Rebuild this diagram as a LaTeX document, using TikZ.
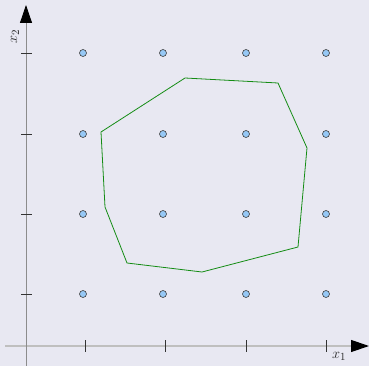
\documentclass[tikz,border=0pt]{standalone}
\usepackage{tikz}
\usetikzlibrary{arrows.meta}
\definecolor{bgpaper}{RGB}{232,232,242}
\definecolor{dotblue}{RGB}{150,200,245}
\definecolor{regiongreen}{RGB}{20,140,20}
\begin{document}
\begin{tikzpicture}[x=1pt, y=-1pt,
    gridpt/.style={circle, draw=black!75, fill=dotblue, line width=0.6pt, inner sep=0pt, minimum size=7pt},
    tick/.style={black!80, line width=0.7pt},
    axlabel/.style={font=\fontsize{15}{17}\selectfont, inner sep=0pt, black!85}]
  \def\ox{26}\def\oy{346}
  % background
  \fill[bgpaper] (0,0) rectangle (369,366);
  \useasboundingbox (0,0) rectangle (369,366);
  % axes
  \coordinate (xs) at (5,\oy);  \coordinate (xe) at (369,\oy);
  \coordinate (ys) at (\ox,366); \coordinate (ye) at (\ox,5);
  \draw[black!25, line width=1.2pt, -{Triangle[length=18pt,width=12pt,black]}] (xs) -- (xe);
  \draw[black!45, line width=0.8pt, -{Triangle[length=18pt,width=12pt,black]}] (ys) -- (ye);
  \node[axlabel, anchor=north west] (lx1) at (332,352) {$x_1$};
  \node[axlabel, rotate=90] (lx2) at (15,37) {$x_2$};
  % ticks
  \foreach \x in {85,165,246,326}
    \draw[tick] (\x,340) -- (\x,352);
  \foreach \y in {53,134,214,294}
    \draw[tick] (21,\y) -- (32,\y);
  % grid points
  \foreach \x [count=\i] in {83,163,246,326}
    \foreach \y [count=\j] in {53,134,214,294}
      \node[gridpt] (p\i\j) at (\x,\y) {};
  % region
  \draw[regiongreen, line width=0.8pt]
      (185,78) -- (278,83) -- (307,148) -- (298,247) -- (202,272)
      -- (127,263) -- (105,207) -- (101,132) -- cycle;
\end{tikzpicture}
\end{document}
